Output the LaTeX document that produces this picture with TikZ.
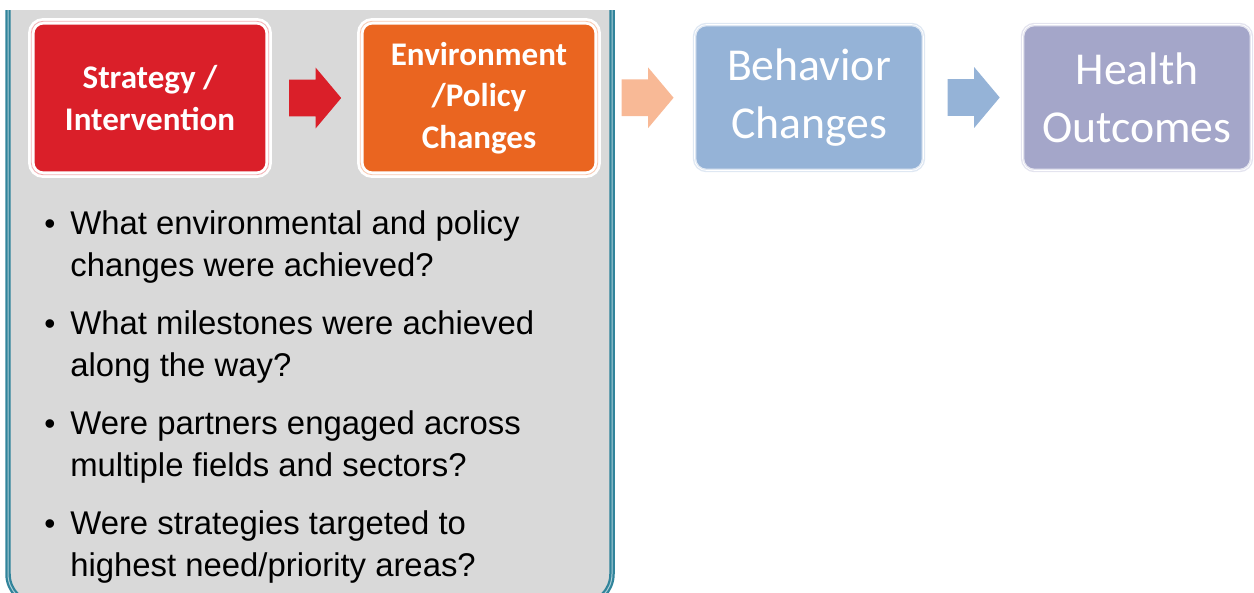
\documentclass[tikz,border=0pt]{standalone}
\usepackage{fontspec}
\setmainfont{Liberation Sans}
\newfontfamily\boxfont{Carlito}
\usepackage{tikz}
\usetikzlibrary{shapes.arrows}
\usetikzlibrary{calc}
\definecolor{stratred}{RGB}{218,31,41}
\definecolor{envorange}{RGB}{234,101,32}
\definecolor{envpeach}{RGB}{248,185,150}
\definecolor{behavblue}{RGB}{149,179,215}
\definecolor{healthpurple}{RGB}{164,166,201}
\definecolor{panelgray}{RGB}{217,217,217}
\definecolor{panelteal}{RGB}{49,132,155}

\tikzset{
	bigbox/.style={rectangle, rounded corners=0.24cm, fill=#1, draw=white, line width=0.13cm,
		minimum width=4.75cm, minimum height=3.07cm, inner sep=0pt, text=white, align=center,
		font=\boxfont\bfseries\fontsize{18.8}{23.6}\selectfont,
		postaction={draw=#1!35!white, line width=0.5pt}},
	smallbox/.style={rectangle, rounded corners=0.24cm, fill=#1, draw=#1!30!white, line width=0.07cm,
		minimum width=4.58cm, minimum height=2.92cm, inner sep=0pt, text=white, align=center,
		font=\boxfont\fontsize{26}{33}\selectfont,
		postaction={draw=white, line width=0.4pt}},
	flowarrow/.style={single arrow, fill=#1, minimum height=1.04cm, minimum width=1.2cm,
		single arrow head extend=0.24cm, single arrow tip angle=100, inner xsep=0pt, inner ysep=0.36cm,
		xshift=-0.14cm},
	question/.style={anchor=base west, align=left, inner sep=0pt, font=\fontsize{18.7}{23.9}\selectfont},
	bulletmark/.style={anchor=base, inner sep=0pt, font=\fontsize{18}{20}\selectfont}
}

\begin{document}
\begin{tikzpicture}[x=0.02cm, y=-0.02cm]
	\useasboundingbox (0, 0) rectangle (1254, 592);
	\begin{scope}
		\clip (0, 10) rectangle (1254, 592);
		\draw[panelteal, double=white!60!panelteal, double distance=0.02cm, line width=0.045cm,
			fill=panelgray, rounded corners=0.6cm] (8, -40) rectangle (612, 604);
	\end{scope}

	\node[bigbox=stratred] (strategy) at (150, 98) {Strategy /\\Intervention};
	\node[bigbox=envorange] (environment) at (479, 98) {Environment\\/Policy\\Changes};
	\node[smallbox=behavblue] (behavior) at (809, 97.5) {Behavior\\Changes};
	\node[smallbox=healthpurple] (health) at (1137, 97.5) {Health\\Outcomes};

	\node[flowarrow=stratred] (arrowa) at ($(strategy.east)!0.5!(environment.west)$) {};
	\node[flowarrow=envpeach] (arrowb) at ($(environment.east)!0.5!(behavior.west)$) {};
	\node[flowarrow=behavblue] (arrowc) at ($(behavior.east)!0.5!(health.west)$) {};

	\foreach \y/\first/\second [count=\i] in {
		276/{What environmental and policy}/{changes were achieved?},
		376/{What milestones were achieved}/{along the way?},
		476/{Were partners engaged across}/{multiple fields and sectors?},
		576/{Were strategies targeted to}/{highest need/priority areas?}} {
		\node[bulletmark] (b\i) at (50, \y - 42) {\textbullet};
		\node[question] (q\i) at (70, \y) {\first\\\second};
	}
\end{tikzpicture}
\end{document}
